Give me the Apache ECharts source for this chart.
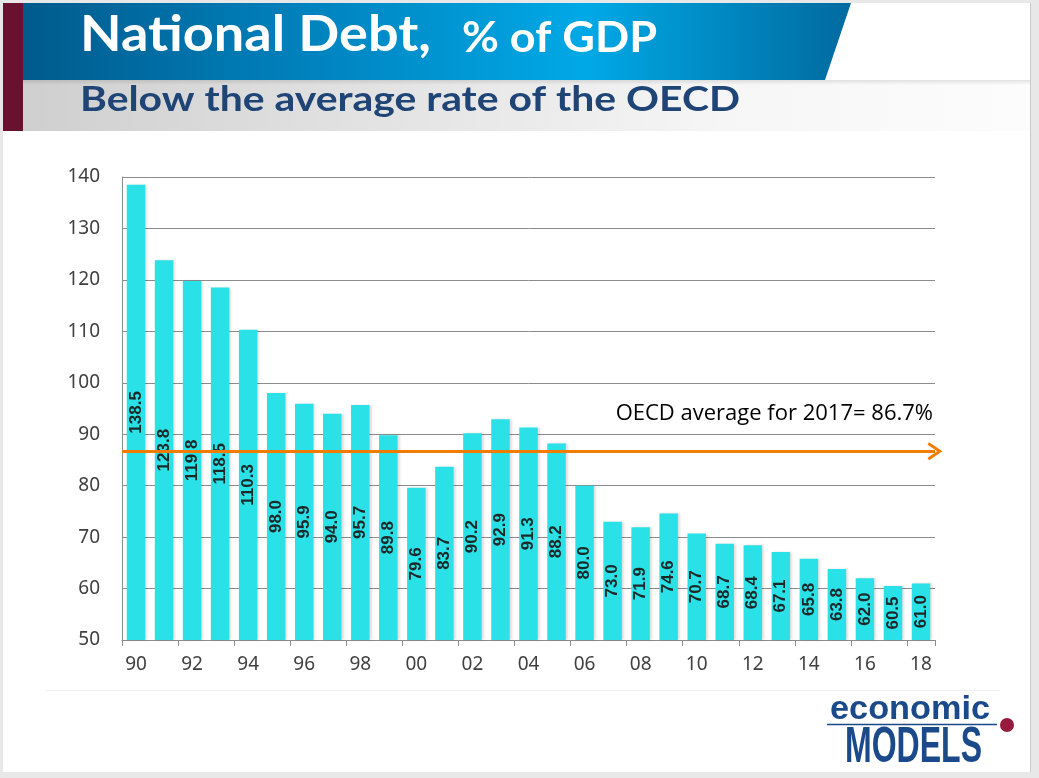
<!DOCTYPE html>
<html><head><meta charset="utf-8">
<script src="https://cdn.jsdelivr.net/npm/echarts@6/dist/echarts.min.js"></script>
<style>html,body{margin:0;padding:0;background:#fff}#c{width:1039px;height:778px}</style>
</head><body><div id="c"></div>
<script>
// ---- data ----
const years = ['90','91','92','93','94','95','96','97','98','99','00','01','02','03','04','05','06','07','08','09','10','11','12','13','14','15','16','17','18'];
const debt = [138.5,123.8,119.8,118.5,110.3,98.0,95.9,94.0,95.7,89.8,79.6,83.7,90.2,92.9,91.3,88.2,80.0,73.0,71.9,74.6,70.7,68.7,68.4,67.1,65.8,63.8,62.0,60.5,61.0];
const oecdAverage = 86.7;
const oecdLabel = 'OECD average for 2017= 86.7%';
const yMin = 50, yMax = 140, yStep = 10;
const titleText = 'National Debt,';
const titleSuffix = '% of GDP';
const subtitleText = 'Below the average rate of the OECD';
const logoTop = 'economic';
const logoBottom = 'MODELS';

// ---- helpers ----
const mctx = document.createElement('canvas').getContext('2d');
function fit(text, font, w){ mctx.font = font; return w / mctx.measureText(text).width; }
function txt(text, x, y, font, fill, targetW, extra){
  const el = {type:'text', x:x, y:y, z:10,
    style:{text:text, font:font, fill:fill, align:'left', textAlign:'left', verticalAlign:'middle', textVerticalAlign:'middle'}};
  if (targetW) { el.scaleX = fit(text, font, targetW); }
  return Object.assign(el, extra||{});
}

const titleFont = 'bold 50px Lato';
const suffixFont = 'bold 42px Lato';
const subFont = 'bold 35px Lato';
const logoFont1 = 'bold 34px "Liberation Sans Narrow", "Liberation Sans", Arial';
const logoFont2 = 'bold 50px "Liberation Sans Narrow", "Liberation Sans", Arial';

const chart = echarts.init(document.getElementById('c'), null, {renderer:'canvas'});
chart.setOption({
  backgroundColor: '#E8E8E8',
  animation: false,
  graphic: [
    {type:'rect', z:-10, shape:{x:3,y:3,width:1027,height:769}, style:{fill:'#ffffff'}},
    {type:'line', z:-9, shape:{x1:1030.5,y1:3,x2:1030.5,y2:772}, style:{stroke:'#C9C9C9',lineWidth:1}},
    {type:'rect', z:-9, shape:{x:23,y:80,width:1007,height:51},
      style:{fill:{type:'linear',x:0,y:0,x2:1,y2:0,colorStops:[{offset:0,color:'#CFCFCF'},{offset:0.45,color:'#E8E8E8'},{offset:0.7,color:'#F6F6F6'},{offset:1,color:'#FCFCFC'}]}}},
    {type:'rect', z:-9, shape:{x:23,y:80,width:1007,height:5},
      style:{fill:{type:'linear',x:0,y:0,x2:0,y2:1,colorStops:[{offset:0,color:'rgba(0,0,0,0.10)'},{offset:1,color:'rgba(0,0,0,0)'}]}}},
    {type:'rect', z:-9, shape:{x:3,y:3,width:20,height:128}, style:{fill:'#6B1130'}},
    {type:'polygon', z:-8, shape:{points:[[23,3],[851,3],[825,80],[23,80]]},
      style:{fill:{type:'linear',x:0,y:0,x2:1,y2:0,colorStops:[{offset:0,color:'#005A8C'},{offset:0.35,color:'#0083BF'},{offset:0.68,color:'#00A9E6'},{offset:1,color:'#006A9F'}]}}},
    {type:'line', z:-9, shape:{x1:45,y1:690.5,x2:1000,y2:690.5}, style:{stroke:'#F0F0F0',lineWidth:1}},
    txt(titleText, 80, 35, titleFont, '#ffffff', 351),
    txt(titleSuffix, 462, 38, suffixFont, '#ffffff', 195),
    txt(subtitleText, 80, 100, subFont, '#1F4476', 660),
    txt(logoTop, 830, 710, logoFont1, '#1B4A8A', 160),
    {type:'line', z:10, shape:{x1:827,y1:724.5,x2:997,y2:724.5}, style:{stroke:'#1B4A8A',lineWidth:1.5}},
    txt(logoBottom, 845, 748, logoFont2, '#1B4A8A', 137),
    {type:'circle', z:10, shape:{cx:1007,cy:725,r:7}, style:{fill:'#971B3C'}}
  ],
  grid: {left:122, right:104, top:177, bottom:138, containLabel:false},
  xAxis: {
    type:'category', data: years, boundaryGap:true,
    axisLine:{show:true, lineStyle:{color:'#8C8C8C', width:1}},
    axisTick:{show:true, interval:1, length:6, lineStyle:{color:'#8C8C8C'}},
    axisLabel:{interval:1, margin:15, fontSize:19, color:'#404040', fontFamily:'"Noto Sans"'},
    splitLine:{show:false}
  },
  yAxis: {
    type:'value', min:yMin, max:yMax, interval:yStep,
    axisLine:{show:true, lineStyle:{color:'#8C8C8C', width:1}},
    axisTick:{show:false},
    axisLabel:{margin:22, fontSize:19, color:'#404040', fontFamily:'"Noto Sans"'},
    splitLine:{show:true, lineStyle:{color:'#8C8C8C', width:1}}
  },
  series: [{
    type:'bar', data: debt, barCategoryGap:'34%',
    itemStyle:{color:'#29E1E6', shadowColor:'rgba(0,0,0,0.12)', shadowBlur:2, shadowOffsetX:2},
    label:{show:true, position:'inside', rotate:90, fontSize:17, fontWeight:'bold', color:'#1C2828',
      fontFamily:'"Liberation Sans", Arial', formatter: p => p.value.toFixed(1)},
    markLine:{
      silent:true, animation:false,
      symbol:['none','path://M9,0 L18,13 L15.5,14.5 L9,5 L2.5,14.5 L0,13 Z'],
      symbolSize:[18,15],
      lineStyle:{color:'#F07C00', width:3, type:'solid'},
      itemStyle:{color:'#F07C00'},
      label:{show:true, position:'insideEndTop', formatter: oecdLabel, color:'#000', fontSize:22,
        fontFamily:'"Open Sans"', distance:[2,26]},
      data:[{yAxis: oecdAverage}]
    }
  }]
});
</script></body></html>
